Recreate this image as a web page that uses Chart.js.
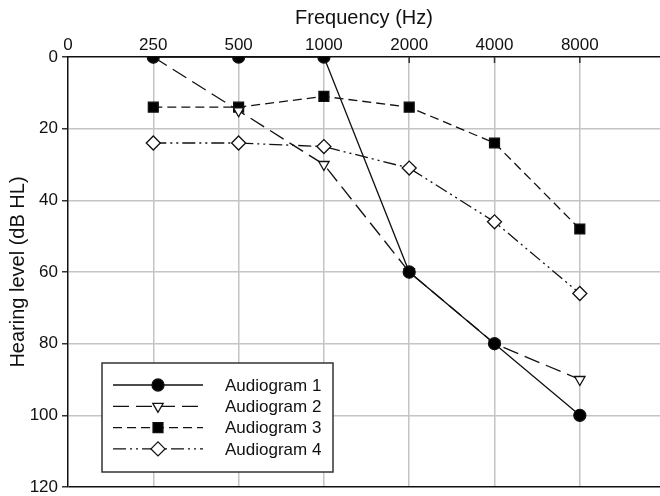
<!DOCTYPE html>
<html>
<head>
<meta charset="utf-8">
<script src="https://cdn.jsdelivr.net/npm/chart.js@4/dist/chart.umd.min.js"></script>
<style>
html,body{margin:0;padding:0;background:#fff;}
</style>
</head>
<body>
<canvas id="audioChart" width="660" height="496"></canvas>
<script>
// frecuencias del eje superior (posiciones equiespaciadas)
const frecuencias = ['0', '250', '500', '1000', '2000', '4000', '8000'];
const yTicks = [0, 20, 40, 60, 80, 100, 120];

// valores en dB HL, por frecuencia (null = sin medida)
const audiograma1 = [null, 0, 0, 0, 60, 80, 100];
const audiograma2 = [null, 0, 15, 30, 60, 80, 90];
const audiograma3 = [null, 14, 14, 11, 14, 24, 48];
const audiograma4 = [null, 24, 24, 25, 31, 46, 66];

const aPuntos = serie => serie
    .map((v, i) => ({x: i, y: v}))
    .filter(p => p.y !== null);

Chart.defaults.font.family = '"Liberation Sans", Arial, sans-serif';
Chart.defaults.color = '#111';

// leyenda dibujada dentro del area del grafico
const leyendaCaja = {
    id: 'leyendaCaja',
    afterDraw(chart){
        const {ctx, chartArea} = chart;
        const x0 = chartArea.left + 34;
        const y0 = chartArea.bottom - 124;
        const w = 231, h = 109;
        ctx.save();
        ctx.fillStyle = '#fff';
        ctx.fillRect(x0, y0, w, h);
        ctx.strokeStyle = '#333';
        ctx.lineWidth = 1.5;
        ctx.strokeRect(x0, y0, w, h);

        chart.data.datasets.forEach((ds, i) => {
            const yy = y0 + 22 + i * 21.3;
            ctx.strokeStyle = ds.borderColor;
            ctx.lineWidth = ds.borderWidth;
            ctx.setLineDash(ds.borderDash || []);
            ctx.beginPath();
            ctx.moveTo(x0 + 11, yy);
            ctx.lineTo(x0 + 101, yy);
            ctx.stroke();
            ctx.setLineDash([]);

            ctx.fillStyle = ds.pointBackgroundColor;
            ctx.strokeStyle = ds.pointBorderColor;
            ctx.lineWidth = ds.pointBorderWidth;
            Chart.helpers.drawPoint(ctx, {
                pointStyle: ds.pointStyle,
                radius: ds.pointRadius,
                rotation: ds.pointRotation || 0,
                borderWidth: ds.pointBorderWidth
            }, x0 + 56, yy);

            ctx.fillStyle = '#111';
            ctx.font = '17px "Liberation Sans", Arial, sans-serif';
            ctx.textBaseline = 'middle';
            ctx.fillText(ds.label, x0 + 123, yy + 1);
        });
        ctx.restore();
    }
};

// marcas cortas hacia dentro en el eje superior
const marcasX = {
    id: 'marcasX',
    beforeDatasetsDraw(chart){
        const {ctx, chartArea, scales} = chart;
        ctx.save();
        ctx.strokeStyle = '#333';
        ctx.lineWidth = 1.5;
        scales.x.ticks.forEach(t => {
            if (t.value === 0) return;
            const px = scales.x.getPixelForValue(t.value);
            ctx.beginPath();
            ctx.moveTo(px, chartArea.top);
            ctx.lineTo(px, chartArea.top + 6);
            ctx.stroke();
        });
        ctx.restore();
    }
};

const base = {
    borderColor: '#111',
    borderWidth: 1.3,
    pointBorderColor: '#111',
    pointBorderWidth: 1.3,
    pointHoverRadius: 0,
    tension: 0,
    fill: false
};

const ctx = document.getElementById('audioChart').getContext('2d');

const chart = new Chart(ctx, {
    type: 'line',
    data: {
        datasets: [
            Object.assign({}, base, {
                label: 'Audiogram 1',
                data: aPuntos(audiograma1),
                borderDash: [],
                pointStyle: 'circle',
                pointRadius: 6,
                pointBackgroundColor: '#000'
            }),
            Object.assign({}, base, {
                label: 'Audiogram 2',
                data: aPuntos(audiograma2),
                borderDash: [16, 7],
                pointStyle: 'triangle',
                pointRotation: 180,
                pointRadius: 6,
                pointBackgroundColor: '#fff'
            }),
            Object.assign({}, base, {
                label: 'Audiogram 3',
                data: aPuntos(audiograma3),
                borderDash: [9, 5],
                pointStyle: 'rect',
                pointRadius: 7,
                pointBackgroundColor: '#000'
            }),
            Object.assign({}, base, {
                label: 'Audiogram 4',
                data: aPuntos(audiograma4),
                borderDash: [13, 4, 2, 4, 2, 4],
                pointStyle: 'rectRot',
                pointRadius: 7,
                pointBackgroundColor: '#fff'
            })
        ]
    },
    options: {
        responsive: false,
        animation: false,
        layout: {autoPadding: false, padding: {top: 0, right: 0, bottom: 9, left: 0}},
        plugins: {
            legend: {display: false},
            tooltip: {enabled: false}
        },
        scales: {
            x: {
                type: 'linear',
                position: 'top',
                min: 0,
                max: 6.94,
                afterBuildTicks: s => { s.ticks = frecuencias.map((_, i) => ({value: i})); },
                afterFit: s => { s.height = 57; s.paddingLeft = 0; s.paddingRight = 0; },
                ticks: {
                    font: {size: 17},
                    padding: 1,
                    maxRotation: 0,
                    autoSkip: false,
                    callback: v => frecuencias[v]
                },
                grid: {
                    color: c => (c.tick && c.tick.value === 0) ? 'rgba(0,0,0,0)' : '#c4c4c4',
                    lineWidth: 1.5,
                    drawTicks: false
                },
                border: {color: '#111', width: 1.5},
                title: {
                    display: true,
                    text: 'Frequency (Hz)',
                    font: {size: 20},
                    padding: {top: 6, bottom: 0}
                }
            },
            y: {
                reverse: true,
                min: 0,
                max: 120,
                afterBuildTicks: s => { s.ticks = yTicks.map(v => ({value: v})); },
                afterFit: s => { s.width = 68; s.paddingTop = 0; s.paddingBottom = 0; },
                ticks: {font: {size: 17}, padding: 4},
                grid: {
                    color: c => {
                        if (!c.tick) return '#c4c4c4';
                        if (c.tick.value === 0) return 'rgba(0,0,0,0)';
                        return c.tick.value === 120 ? '#111' : '#c4c4c4';
                    },
                    lineWidth: 1.5,
                    tickColor: '#333',
                    tickLength: 6
                },
                border: {color: '#111', width: 1.5},
                title: {
                    display: true,
                    text: 'Hearing level (dB HL)',
                    font: {size: 20},
                    padding: {top: 6, bottom: 0}
                }
            }
        }
    },
    plugins: [marcasX, leyendaCaja]
});
</script>
</body>
</html>
